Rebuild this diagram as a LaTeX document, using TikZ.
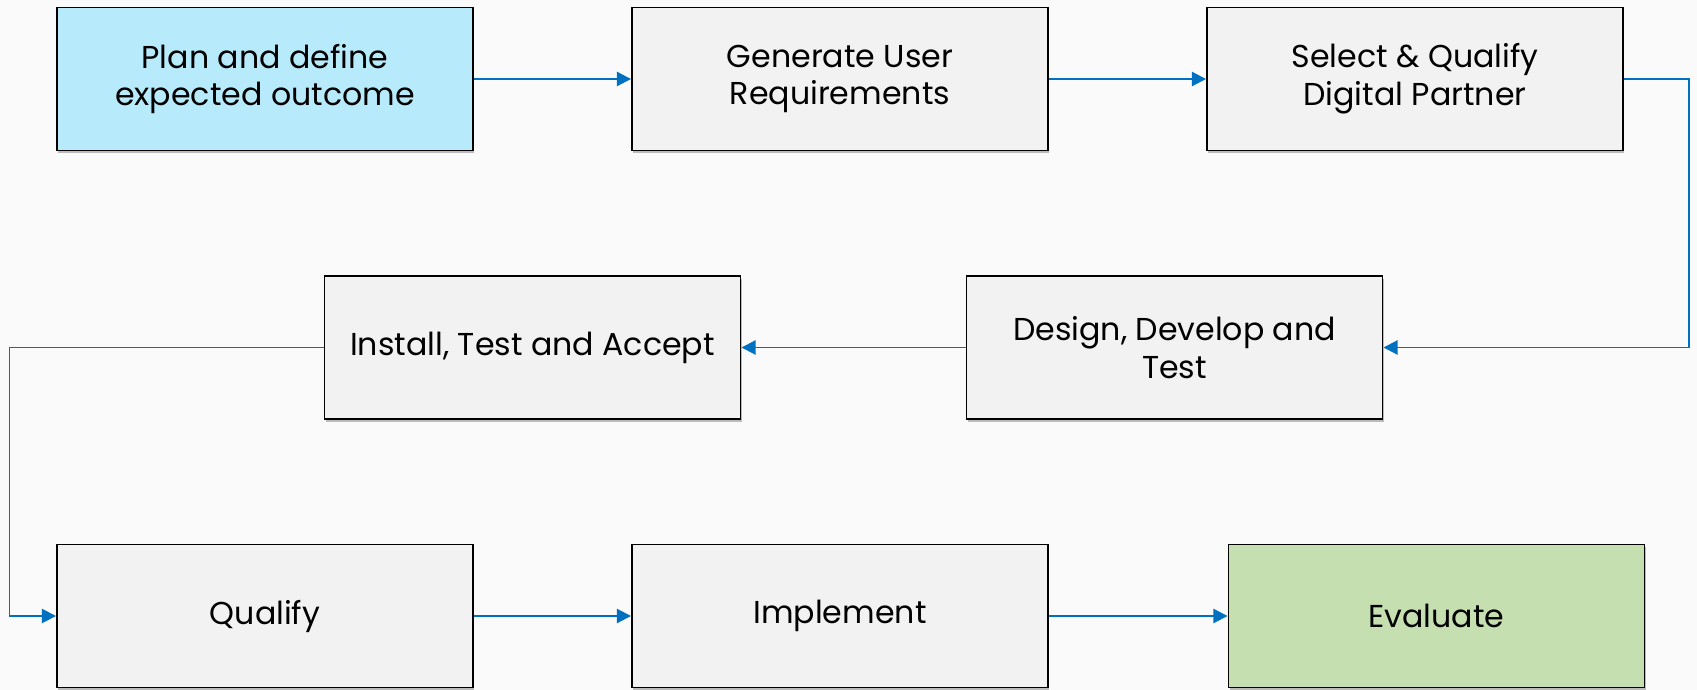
\documentclass[tikz,border=0pt]{standalone}
\usepackage{fontspec}
\setmainfont{Poppins}
\usepackage{tikz}
\usetikzlibrary{positioning,arrows.meta,shadows}

\definecolor{planblue}{HTML}{B7EBFC}
\definecolor{evalgreen}{HTML}{C6DFB0}
\definecolor{boxgray}{HTML}{F2F2F2}
\definecolor{flowblue}{HTML}{0070C0}

\tikzset{
    stepbox/.style={draw=black, line width=1.1pt, fill=boxgray,
        minimum width=8.32cm, minimum height=2.86cm, align=center,
        font=\fontsize{18}{21.5}\selectfont,
        drop shadow={shadow xshift=0.6pt, shadow yshift=-1.6pt, opacity=0.25, fill=black}},
    flow/.style={draw=flowblue, line width=1.1pt, -{Triangle[length=8pt,width=8pt]}}
}

\begin{document}
\begin{tikzpicture}[node distance=5.37cm and 11.5cm, on grid]
    \fill[gray!4] (-5.30,1.58) rectangle (28.64,-12.22);
    \useasboundingbox (-5.30,1.58) rectangle (28.64,-12.22);

    \node[stepbox, fill=planblue] (plan) {Plan and define\\expected outcome};
    \node[stepbox] (gen) [right=of plan] {Generate User\\Requirements};
    \node[stepbox] (select) [right=of gen] {Select \& Qualify\\Digital Partner};
    \node[stepbox] (install) [below=of plan, xshift=5.35cm] {Install, Test and Accept};
    \node[stepbox] (design) [below=of select, xshift=-4.81cm] {Design, Develop and\\Test};
    \node[stepbox] (qualify) [below=10.74cm of plan] {Qualify};
    \node[stepbox] (implement) [right=of qualify] {Implement};
    \node[stepbox, fill=evalgreen] (evaluate) [right=of implement, xshift=0.43cm] {Evaluate};

    \draw[flow] (plan) -- (gen);
    \draw[flow] (gen) -- (select);
    \draw[flow] (select.east) -- ++(1.3,0) |- (design.east);
    \draw[flow] (design) -- (install);
    \draw[flow] (install.west) -- ++(-6.28,0) |- (qualify.west);
    \draw[flow] (qualify) -- (implement);
    \draw[flow] (implement) -- (evaluate);
\end{tikzpicture}
\end{document}
